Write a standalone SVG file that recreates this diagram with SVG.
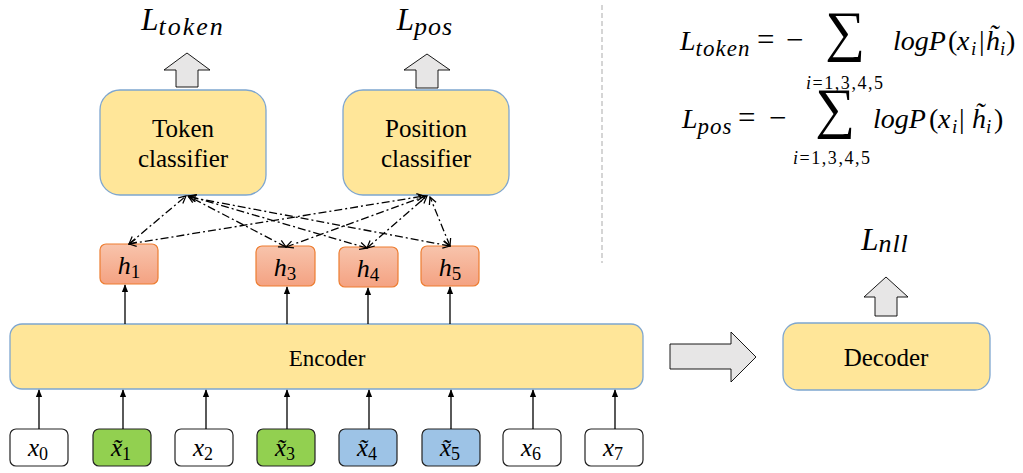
<svg xmlns="http://www.w3.org/2000/svg" width="1023" height="473" viewBox="0 0 1023 473">
<defs>
<linearGradient id="hg" x1="0" y1="0" x2="0" y2="1">
<stop offset="0" stop-color="#F8C4AC"/>
<stop offset="1" stop-color="#F4A282"/>
</linearGradient>
<marker id="ah" viewBox="0 0 10 10" refX="9" refY="5" markerWidth="9" markerHeight="9" markerUnits="userSpaceOnUse" orient="auto-start-reverse">
<path d="M1,1 L9,5 L1,9" fill="none" stroke="#000" stroke-width="1.4"/>
</marker>
<marker id="sa" viewBox="0 0 10 10" refX="9" refY="5" markerWidth="8" markerHeight="9" markerUnits="userSpaceOnUse" orient="auto">
<path d="M0,1 L10,5 L0,9 Z" fill="#000"/>
</marker>
</defs>
<style>
.yb{fill:#FFE699;stroke:#7EA6D0;stroke-width:1.3}
.hb{fill:url(#hg);stroke:#ED7D31;stroke-width:1.2}
.xb{stroke:#222;stroke-width:1.2}
.gray{fill:#E7E6E6;stroke:#000;stroke-width:0.9}
.t{font-family:"Liberation Serif","DejaVu Serif",serif;fill:#000}
.m{font-family:"Liberation Serif","DejaVu Serif",serif;font-style:italic;fill:#000}
.n{font-style:normal}
.dd{fill:none;stroke:#000;stroke-width:1.3;stroke-dasharray:8 3 2 3;marker-start:url(#ah);marker-end:url(#ah)}
.va{stroke:#000;stroke-width:1.3;marker-end:url(#sa)}
</style>

<line x1="602" y1="5" x2="602" y2="263" stroke="#BFBFBF" stroke-width="1.3" stroke-dasharray="5 3"/>

<g id="loss-token">
<text class="m" x="183" y="30" font-size="31" text-anchor="middle">L<tspan font-size="26" dy="5" letter-spacing="2">token</tspan></text>
<path class="gray" d="M187,53 L210,70 L198,70 L198,87 L176,87 L176,70 L164,70 Z"/>
</g>
<g id="loss-pos">
<text class="m" x="425" y="30" font-size="31" text-anchor="middle">L<tspan font-size="26" dy="5" letter-spacing="1">pos</tspan></text>
<path class="gray" d="M427,54 L450,70 L438,70 L438,88 L416,88 L416,70 L404,70 Z"/>
</g>

<g id="token-classifier">
<rect class="yb" x="100" y="90" width="166" height="105" rx="20"/>
<text class="t" x="183" y="137" font-size="25" text-anchor="middle">Token</text>
<text class="t" x="183" y="167" font-size="25" text-anchor="middle">classifier</text>
</g>
<g id="position-classifier">
<rect class="yb" x="343" y="90" width="166" height="105" rx="20"/>
<text class="t" x="426" y="137" font-size="25" text-anchor="middle">Position</text>
<text class="t" x="426" y="167" font-size="25" text-anchor="middle">classifier</text>
</g>

<g id="h1"><rect class="hb" x="100" y="244" width="58" height="40" rx="6"/><text class="m" x="129" y="274" font-size="26" text-anchor="middle">h<tspan class="n" font-size="19" dy="4">1</tspan></text></g>
<g id="h3"><rect class="hb" x="256" y="246" width="59" height="40" rx="6"/><text class="m" x="285" y="276" font-size="26" text-anchor="middle">h<tspan class="n" font-size="19" dy="4">3</tspan></text></g>
<g id="h4"><rect class="hb" x="339" y="247" width="59" height="40" rx="6"/><text class="m" x="368" y="277" font-size="26" text-anchor="middle">h<tspan class="n" font-size="19" dy="4">4</tspan></text></g>
<g id="h5"><rect class="hb" x="421" y="246" width="58" height="40" rx="6"/><text class="m" x="450" y="276" font-size="26" text-anchor="middle">h<tspan class="n" font-size="19" dy="4">5</tspan></text></g>

<g id="encoder">
<rect class="yb" x="10" y="324" width="633" height="65" rx="12"/>
<text class="t" x="327" y="366" font-size="23" text-anchor="middle">Encoder</text>
</g>

<g id="x0"><rect class="xb" fill="#fff" x="10" y="429" width="58" height="37" rx="6"/><text class="m" x="38" y="456" font-size="25" text-anchor="middle">x<tspan class="n" font-size="18" dy="4">0</tspan></text></g>
<g id="x1"><rect class="xb" fill="#92D050" x="93" y="429" width="58" height="37" rx="6"/><text class="m" x="121" y="456" font-size="25" text-anchor="middle">x̃<tspan class="n" font-size="18" dy="4">1</tspan></text></g>
<g id="x2"><rect class="xb" fill="#fff" x="175" y="429" width="58" height="37" rx="6"/><text class="m" x="203" y="456" font-size="25" text-anchor="middle">x<tspan class="n" font-size="18" dy="4">2</tspan></text></g>
<g id="x3"><rect class="xb" fill="#92D050" x="257" y="429" width="58" height="37" rx="6"/><text class="m" x="285" y="456" font-size="25" text-anchor="middle">x̃<tspan class="n" font-size="18" dy="4">3</tspan></text></g>
<g id="x4"><rect class="xb" fill="#9DC3E6" x="339" y="429" width="58" height="37" rx="6"/><text class="m" x="367" y="456" font-size="25" text-anchor="middle">x̃<tspan class="n" font-size="18" dy="4">4</tspan></text></g>
<g id="x5"><rect class="xb" fill="#9DC3E6" x="422" y="429" width="58" height="37" rx="6"/><text class="m" x="450" y="456" font-size="25" text-anchor="middle">x̃<tspan class="n" font-size="18" dy="4">5</tspan></text></g>
<g id="x6"><rect class="xb" fill="#fff" x="503" y="429" width="58" height="37" rx="6"/><text class="m" x="531" y="456" font-size="25" text-anchor="middle">x<tspan class="n" font-size="18" dy="4">6</tspan></text></g>
<g id="x7"><rect class="xb" fill="#fff" x="585" y="429" width="58" height="37" rx="6"/><text class="m" x="613" y="456" font-size="25" text-anchor="middle">x<tspan class="n" font-size="18" dy="4">7</tspan></text></g>

<g id="decoder">
<rect class="yb" x="783" y="323" width="207" height="67" rx="15"/>
<text class="t" x="886" y="366" font-size="25" text-anchor="middle">Decoder</text>
</g>
<g id="loss-nll">
<text class="m" x="885" y="250" font-size="31" text-anchor="middle">L<tspan font-size="26" dy="2" letter-spacing="1">nll</tspan></text>
<path class="gray" d="M886,277 L908,297 L897,297 L897,316 L875,316 L875,297 L864,297 Z"/>
</g>

<g id="formulas">
<text class="m" x="680" y="50" font-size="28">L<tspan font-size="23" dy="6" letter-spacing="1">token</tspan></text>
<text class="t" x="757" y="50" font-size="31">=</text>
<text class="t" x="786" y="50" font-size="31">−</text>
<text class="t" x="845" y="50" font-size="56" text-anchor="middle">∑</text>
<text class="m" x="806" y="89" font-size="18" textLength="77" lengthAdjust="spacing">i<tspan class="n">=1,3,4,5</tspan></text>
<text class="m" font-size="28" y="50"><tspan x="893">logP</tspan><tspan class="n" x="948">(</tspan><tspan x="957">x</tspan><tspan font-size="19" x="971" dy="5">i</tspan><tspan class="n" x="979" dy="-5">|</tspan><tspan x="986">h̃</tspan><tspan font-size="19" x="1000" dy="5">i</tspan><tspan class="n" x="1006" dy="-5">)</tspan></text>

<text class="m" x="682" y="128" font-size="28">L<tspan font-size="23" dy="6" letter-spacing="1">pos</tspan></text>
<text class="t" x="738" y="128" font-size="31">=</text>
<text class="t" x="769" y="128" font-size="31">−</text>
<text class="t" x="835" y="127" font-size="56" text-anchor="middle">∑</text>
<text class="m" x="793" y="164" font-size="18" textLength="77" lengthAdjust="spacing">i<tspan class="n">=1,3,4,5</tspan></text>
<text class="m" font-size="28" y="128"><tspan x="873">logP</tspan><tspan class="n" x="929">(</tspan><tspan x="938">x</tspan><tspan font-size="19" x="952" dy="5">i</tspan><tspan class="n" x="959" dy="-5">|</tspan><tspan x="972">h̃</tspan><tspan font-size="19" x="986" dy="5">i</tspan><tspan class="n" x="994" dy="-5">)</tspan></text>
</g>

<g id="connectors">
<line class="dd" x1="129" y1="244" x2="186" y2="196"/>
<line class="dd" x1="129" y1="244" x2="424" y2="196"/>
<line class="dd" x1="286" y1="247" x2="188" y2="196"/>
<line class="dd" x1="286" y1="247" x2="426" y2="196"/>
<line class="dd" x1="367" y1="248" x2="189" y2="196"/>
<line class="dd" x1="367" y1="248" x2="427" y2="196"/>
<line class="dd" x1="450" y1="246" x2="189" y2="197"/>
<line class="dd" x1="450" y1="246" x2="430" y2="197"/>

<line class="va" x1="125" y1="324" x2="125" y2="285"/>
<line class="va" x1="287" y1="324" x2="287" y2="287"/>
<line class="va" x1="368" y1="324" x2="368" y2="288"/>
<line class="va" x1="450" y1="324" x2="450" y2="287"/>

<line class="va" x1="39" y1="429" x2="39" y2="390"/>
<line class="va" x1="123" y1="429" x2="123" y2="390"/>
<line class="va" x1="206" y1="429" x2="206" y2="390"/>
<line class="va" x1="287" y1="429" x2="287" y2="390"/>
<line class="va" x1="369" y1="429" x2="369" y2="390"/>
<line class="va" x1="451" y1="429" x2="451" y2="390"/>
<line class="va" x1="533" y1="429" x2="533" y2="390"/>
<line class="va" x1="615" y1="429" x2="615" y2="390"/>

<path class="gray" d="M670,344 L731,344 L731,332 L756,357 L731,382 L731,369 L670,369 Z"/>
</g>
</svg>
